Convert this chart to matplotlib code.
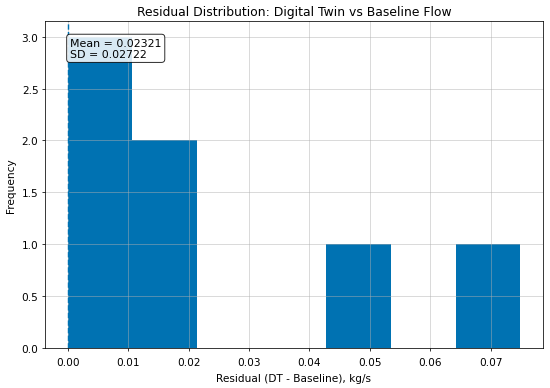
import numpy as np
import matplotlib
matplotlib.use("Agg")
import matplotlib.pyplot as plt

# residuals DT - baseline (kg/s)
residuals = [0.0, 0.001, 0.006, 0.012, 0.019, 0.0495, 0.0749]
n_bins = 7
mean_txt = "Mean = 0.02321"
sd_txt = "SD = 0.02722"

plt.rcParams["font.size"] = 11

fig, ax = plt.subplots(figsize=(8, 5.658), dpi=68.75)
ax.hist(residuals, bins=n_bins, color="#0072B2")
ax.axvline(0, color="#0072B2", linestyle="--", linewidth=1.5)
ax.text(0.05, 0.95, mean_txt + "\n" + sd_txt, transform=ax.transAxes,
        va="top", ha="left", fontsize=11.5,
        bbox=dict(boxstyle="round", facecolor="white", alpha=0.85))
ax.set_title("Residual Distribution: Digital Twin vs Baseline Flow", fontsize=13)
ax.set_xlabel("Residual (DT - Baseline), kg/s", labelpad=7)
ax.set_ylabel("Frequency", labelpad=6)
ax.tick_params(axis="x", pad=5.5)
ax.grid(True, alpha=0.6)
fig.subplots_adjust(left=0.082, right=0.987, top=0.943, bottom=0.103)
plt.savefig("out.png")
